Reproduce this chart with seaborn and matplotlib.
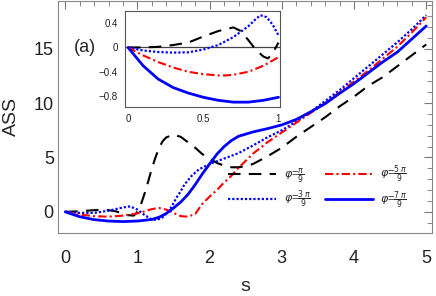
import numpy as np
import pandas as pd
import matplotlib
matplotlib.use('Agg')
import matplotlib.pyplot as plt
import seaborn as sns
from matplotlib.ticker import MultipleLocator

# ---------------- main panel data ----------------
s_k = [0, 0.2, 0.4, 0.55, 0.7, 0.85, 0.95, 1.0, 1.05, 1.1, 1.15, 1.2, 1.25, 1.3, 1.35, 1.4,
       1.5, 1.6, 1.7, 1.8, 1.9, 2.0, 2.1, 2.2, 2.3, 2.4, 2.5, 2.6, 2.7, 2.8, 2.9, 3.0,
       3.2, 3.4, 3.6, 3.8, 4.0, 4.2, 4.4, 4.6, 4.8, 5.0]
ass_k = [0, 0.05, 0.15, 0.2, 0.05, -0.3, -0.35, 0.0, 0.7, 1.7, 2.8, 4.0, 5.0, 5.9, 6.5, 6.85,
         7.1, 6.9, 6.4, 5.9, 5.3, 4.9, 4.5, 4.25, 4.1, 4.1, 4.2, 4.4, 4.75, 5.1, 5.5, 5.9,
         6.9, 7.8, 8.7, 9.7, 10.6, 11.6, 12.4, 13.4, 14.4, 15.4]

s_b3 = [0, 0.2, 0.4, 0.6, 0.8, 0.9, 1.0, 1.1, 1.2, 1.27, 1.35, 1.45, 1.55, 1.6, 1.65, 1.75,
        1.85, 2.0, 2.2, 2.4, 2.6, 2.8, 3.0, 3.2, 3.4, 3.6, 3.8, 4.0, 4.2, 4.4, 4.6, 4.8, 5.0]
ass_b3 = [0, -0.1, -0.1, 0.1, 0.4, 0.5, 0.2, -0.3, -0.7, -0.75, -0.5, 0.2, 1.4, 1.9, 2.5, 3.3,
          3.9, 4.4, 4.9, 5.4, 6.1, 6.85, 7.5, 8.3, 9.2, 10.2, 11.2, 12.3, 13.4, 14.5, 15.6, 16.8, 18.1]

s_r5 = [0, 0.2, 0.4, 0.6, 0.8, 1.0, 1.1, 1.2, 1.3, 1.4, 1.5, 1.6, 1.7, 1.8, 1.9, 2.0, 2.1,
        2.2, 2.3, 2.4, 2.5, 2.6, 2.8, 3.0, 3.2, 3.4, 3.6, 3.8, 4.0, 4.2, 4.4, 4.6, 4.8, 5.0]
ass_r5 = [0, -0.25, -0.4, -0.45, -0.35, -0.15, 0.05, 0.25, 0.35, 0.2, -0.1, -0.4, -0.45, -0.2,
          0.75, 1.4, 2.0, 2.7, 3.3, 4.05, 4.7, 5.35, 6.4, 7.3, 8.2, 9.1, 10.0, 11.0, 12.0, 13.0,
          14.1, 15.2, 16.5, 17.9]

s_b7 = [0, 0.2, 0.4, 0.6, 0.8, 1.0, 1.2, 1.3, 1.4, 1.5, 1.6, 1.7, 1.8, 1.9, 2.0, 2.1, 2.2,
        2.3, 2.4, 2.6, 2.8, 3.0, 3.2, 3.4, 3.6, 3.8, 4.0, 4.2, 4.4, 4.6, 4.8, 5.0]
ass_b7 = [0, -0.45, -0.72, -0.85, -0.9, -0.85, -0.7, -0.5, -0.15, 0.35, 0.9, 1.6, 2.5, 3.5,
          4.4, 5.3, 6.0, 6.55, 6.95, 7.35, 7.65, 8.0, 8.5, 9.2, 9.95, 10.9, 11.8, 12.8, 13.8,
          14.7, 15.9, 17.1]

# ---------------- inset data ----------------
si_k = [0, 0.1, 0.2, 0.3, 0.4, 0.5, 0.6, 0.7, 0.75, 0.8, 0.85, 0.9, 0.93, 0.96, 1.0]
ai_k = [0, 0.0, 0.01, 0.04, 0.08, 0.18, 0.27, 0.33, 0.27, 0.12, -0.04, -0.15, -0.18, -0.1, 0.08]

si_b3 = [0, 0.1, 0.2, 0.3, 0.4, 0.5, 0.6, 0.7, 0.8, 0.85, 0.88, 0.92, 0.96, 1.0]
ai_b3 = [0, -0.05, -0.075, -0.085, -0.08, -0.035, 0.04, 0.17, 0.35, 0.47, 0.53, 0.5, 0.38, 0.2]

si_r5 = [0, 0.1, 0.2, 0.3, 0.4, 0.5, 0.6, 0.65, 0.7, 0.8, 0.9, 1.0]
ai_r5 = [0, -0.13, -0.24, -0.33, -0.4, -0.44, -0.46, -0.46, -0.45, -0.4, -0.3, -0.16]

si_b7 = [0, 0.1, 0.2, 0.3, 0.4, 0.5, 0.6, 0.7, 0.8, 0.9, 1.0]
ai_b7 = [0, -0.3, -0.52, -0.66, -0.75, -0.82, -0.87, -0.9, -0.9, -0.87, -0.82]

labels = [r'$\varphi$=$\frac{\pi}{9}$', r'$\varphi$=$\frac{3\,\pi}{9}$',
          r'$\varphi$=$\frac{5\,\pi}{9}$', r'$\varphi$=$\frac{7\,\pi}{9}$']
x_ticks = [0, 1, 2, 3, 4, 5]
y_ticks = [0, 5, 10, 15]
xi_ticks = [0, 0.5, 1]
yi_ticks = [0.4, 0, -0.4, -0.8]
yi_ticklabels = ['0.4', '0', '\u22120.4', '\u22120.8']

sns.set_theme(style='white')
plt.rcParams['font.family'] = ['Liberation Sans', 'DejaVu Sans']
plt.rcParams['mathtext.fontset'] = 'dejavusans'

styles = [
    dict(color='black', lw=1.5, linestyle=(0, (6, 4))),
    dict(color='blue', lw=1.6, linestyle=(0, (1, 0.9))),
    dict(color='red', lw=1.5, linestyle=(0, (4, 1.5, 1, 1.5))),
    dict(color='blue', lw=2.0, linestyle='-'),
]

fig = plt.figure(figsize=(4.36, 2.96), dpi=100)
ax = fig.add_axes([58/436, 1-233/296, (432-58)/436, (233-1)/296])

main = [(s_k, ass_k), (s_b3, ass_b3), (s_r5, ass_r5), (s_b7, ass_b7)]
for (xs, ys), st, lab in zip(main, styles, labels):
    sns.lineplot(x=xs, y=ys, ax=ax, estimator=None, sort=False, label=lab, **st)

ax.set_xlim(-0.1, 5.08)
ax.set_ylim(-1.95, 19.4)
ax.set_xticks(x_ticks)
ax.set_yticks(y_ticks)
ax.xaxis.set_minor_locator(MultipleLocator(0.2))
ax.yaxis.set_minor_locator(MultipleLocator(1))
ax.tick_params(which='both', direction='in', top=True, right=True, color='#777777',
               labelsize=13, labelcolor='#222222')
ax.tick_params(which='major', length=6, width=0.8)
ax.tick_params(which='minor', length=3.5, width=0.6)
ax.tick_params(axis='x', which='major', pad=12)
ax.tick_params(axis='y', which='major', pad=3)
for sp in ax.spines.values():
    sp.set_color('#888888')
    sp.set_linewidth(0.8)
ax.set_xlabel('s', fontsize=14, labelpad=8)
ax.set_ylabel('ASS', fontsize=14, labelpad=10)

handles, labs = ax.get_legend_handles_labels()
leg = ax.legend(handles, labs, ncol=2, loc='upper left',
                bbox_to_anchor=(228/436, 1-164/296), bbox_transform=fig.transFigure,
                frameon=False, fontsize=8, handlelength=4.3, handletextpad=0.7,
                columnspacing=1.3, labelspacing=0.35, borderpad=0, borderaxespad=0)

# inset
axin = fig.add_axes([125/436, 1-107/296, 155/436, 96/296])
inset = [(si_k, ai_k), (si_b3, ai_b3), (si_r5, ai_r5), (si_b7, ai_b7)]
axin.axhline(0, color='#444444', lw=0.9, zorder=1)
for (xs, ys), st in zip(inset, styles):
    sns.lineplot(x=xs, y=ys, ax=axin, estimator=None, sort=False, legend=False, **st)
axin.set_xlim(-0.02, 1.01)
axin.set_ylim(-0.98, 0.6)
axin.set_xticks(xi_ticks)
axin.set_xticklabels(['0', '0.5', '1'])
axin.set_yticks(yi_ticks)
axin.set_yticklabels(yi_ticklabels)
axin.tick_params(direction='out', length=3, width=0.7, color='#555555', labelsize=7,
                 pad=2, labelcolor='#222222')
for sp in axin.spines.values():
    sp.set_color('#555555')
    sp.set_linewidth(0.8)
axin.set_facecolor('white')

fig.text(85/436, 1-47/296, '(a)', fontsize=13, ha='center', va='center')

fig.savefig('out.png', dpi=100)
